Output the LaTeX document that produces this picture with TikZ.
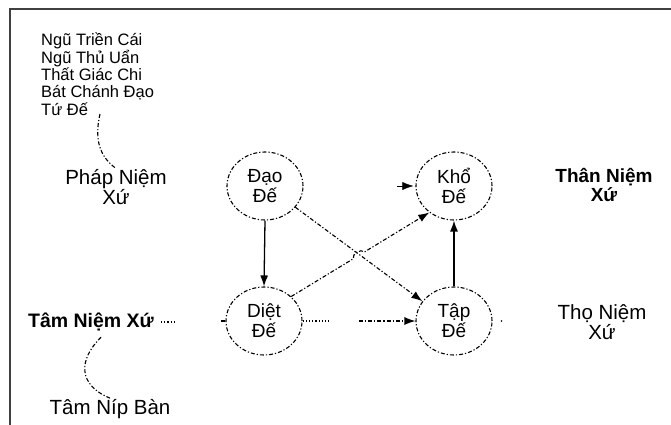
\documentclass[tikz,border=0pt]{standalone}
\usepackage{fontspec}
\setmainfont{Liberation Sans}
\usetikzlibrary{shapes.geometric,arrows.meta,calc}
\tikzset{
  dd/.style={line width=1.1pt,dash pattern=on 4pt off 2pt on 1.2pt off 2pt},
  dotline/.style={line width=1.1pt,dash pattern=on 1.2pt off 2pt},
  de/.style={ellipse,dd,draw,minimum width=76pt,minimum height=68pt,inner sep=0pt,
             align=center,font=\fontsize{19}{20}\selectfont},
  lbl/.style={align=center,font=\fontsize{20.5}{19.5}\selectfont,inner sep=1pt},
  tip/.style={-{Latex[length=11pt,width=8pt]}},
}
\begin{document}
\begin{tikzpicture}[x=1pt,y=-1pt]
\useasboundingbox (0,0) rectangle (671,425);
% frame
\draw[line width=1.8pt,black!75] (10,425) -- (10,9) -- (671,9);

% text list
\node[anchor=north west,align=left,inner sep=0pt,font=\fontsize{16.5}{17.3}\selectfont] (list) at (41,33)
  {Ngũ Triền Cái\\Ngũ Thủ Uẩn\\Thất Giác Chi\\Bát Chánh Đạo\\Tứ Đế};
\coordinate (c1) at (100,114);

\node[lbl] (phap) at (116,187) {Pháp Niệm\\Xứ};
\node[lbl,font=\bfseries\fontsize{19}{19.5}\selectfont] (than) at (604,185) {Thân Niệm\\Xứ};
\node[lbl] (tho) at (602,322) {Thọ Niệm\\Xứ};
\node[lbl,font=\bfseries\fontsize{19.5}{19.5}\selectfont] (tam) at (91,322) {Tâm Niệm Xứ};
\node[lbl] (tnb) at (110,409) {Tâm Níp Bàn};

% the four truths
\node[de] (dao)  at (265,186) {Đạo\\Đế};
\node[de] (kho)  at (454,186) {Khổ\\Đế};
\node[de] (diet) at (264,321) {Diệt\\Đế};
\node[de] (tap)  at (454,321) {Tập\\Đế};

% connectors
\draw[line width=1.3pt,tip] (dao.south) -- (diet.north);
\draw[line width=1.3pt,tip] (tap.north) -- (kho.south);
\draw[dd,tip] (dao.-35) -- (tap.148);
\coordinate (h1) at ($(diet.42)!0.45!(kho.227)$);
\coordinate (h2) at ($(diet.42)!0.53!(kho.227)$);
\draw[dd,tip] (diet.42) -- (h1) to[bend left=80] (h2) -- (kho.227);
\draw[dotline] (diet.east) -- ($(diet.east)!0.25!(tap.west)$);
\draw[dd,tip] ($(diet.east)!0.5!(tap.west)$) -- (tap.west);
\draw[tip] ($(kho.west)+(-18,0)$) -- ($(kho.west)+(-2,0)$);

% small marks
\draw[dotline] ($(tam.east)+(6,0)$) -- ++(14,0);
\draw[line width=1.1pt] (diet.west) -- ++(-4,0);
\fill ($(tap.east)+(9,0)$) circle (0.9pt);

% curved dashed links
\draw[dd] (c1) .. controls (94,140) and (100,157) .. (phap.north);
\draw[dd] ($(tam.south)+(10,5)$) .. controls (78,360) and (78,385) .. (tnb.north);
\end{tikzpicture}
\end{document}
